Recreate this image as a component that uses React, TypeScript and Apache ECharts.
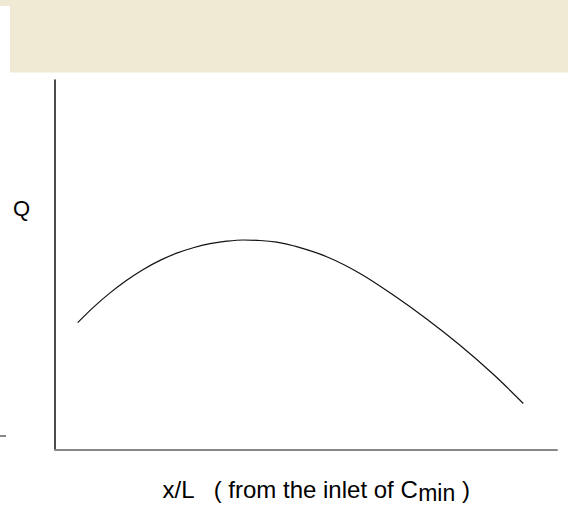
import React, { useEffect, useRef } from "react";
import * as echarts from "echarts";

// Position along the exchanger, x/L (0 = inlet of Cmin)
const xPos = [
  0.0452, 0.0763, 0.1096, 0.1428, 0.1759, 0.2092, 0.2424, 0.2755, 0.3088,
  0.342, 0.3751, 0.4084, 0.4416, 0.4747, 0.5412, 0.6076, 0.6739, 0.7404,
  0.8068, 0.8731, 0.9329,
];
// Local heat transfer Q (relative)
const qVals = [
  0.3432, 0.3846, 0.4238, 0.4582, 0.4874, 0.5118, 0.5313, 0.5461, 0.557,
  0.5637, 0.567, 0.5656, 0.561, 0.5515, 0.5218, 0.4766, 0.4181, 0.3532,
  0.282, 0.2035, 0.1245,
];

const yAxisName = "Q";
const xAxisMain = "x/L   ( from the inlet of C";
const xAxisSub = "min";
const xAxisTail = " )";

export default function App() {
  const ref = useRef<HTMLDivElement>(null);

  useEffect(() => {
    if (!ref.current) return;
    const chart = echarts.init(ref.current, undefined, { renderer: "svg" });
    const font = "'Liberation Sans', Arial, sans-serif";
    chart.setOption({
      animation: false,
      backgroundColor: "#ffffff",
      grid: { left: 55, right: 11, top: 80, bottom: 55.5, containLabel: false },
      xAxis: {
        type: "value",
        min: 0,
        max: 1,
        axisLine: { show: true, lineStyle: { color: "#888888", width: 2 } },
        axisTick: { show: false },
        axisLabel: { show: false },
        splitLine: { show: false },
      },
      yAxis: {
        type: "value",
        min: 0,
        max: 1,
        axisLine: { show: true, lineStyle: { color: "#111111", width: 1.5 } },
        axisTick: { show: false },
        axisLabel: { show: false },
        splitLine: { show: false },
      },
      series: [
        {
          type: "line",
          data: xPos.map((x, i) => [x, qVals[i]]),
          smooth: 0.35,
          showSymbol: false,
          lineStyle: { color: "#111111", width: 1.2 },
          z: 3,
        },
      ],
      graphic: [
        {
          type: "rect",
          shape: { x: 0, y: 0, width: 568, height: 6 },
          style: { fill: "#F0E9D3" },
          silent: true,
        },
        {
          type: "rect",
          shape: { x: 10, y: 0, width: 558, height: 72.5 },
          style: { fill: "#F0E9D3" },
          silent: true,
        },
        {
          type: "rect",
          shape: { x: 0, y: 435, width: 6, height: 2 },
          style: { fill: "#888888" },
          silent: true,
        },
        {
          type: "text",
          x: 21.5,
          y: 208,
          style: {
            text: yAxisName,
            fill: "#000000",
            font: `22px ${font}`,
            align: "center",
            verticalAlign: "middle",
          },
        },
        {
          type: "text",
          x: 316,
          y: 489,
          style: {
            text: `{m|${xAxisMain}}{s|${xAxisSub}}{m|${xAxisTail}}`,
            align: "center",
            verticalAlign: "middle",
            rich: {
              m: { fontSize: 24, fontFamily: font, fill: "#000000" },
              s: {
                fontSize: 23,
                fontFamily: font,
                fill: "#000000",
                padding: [8, 0, 0, 0],
              },
            },
          },
        },
      ],
    });
    return () => chart.dispose();
  }, []);

  return (
    <div
      ref={ref}
      style={{ position: "fixed", left: 0, top: 0, width: 568, height: 505 }}
    />
  );
}
